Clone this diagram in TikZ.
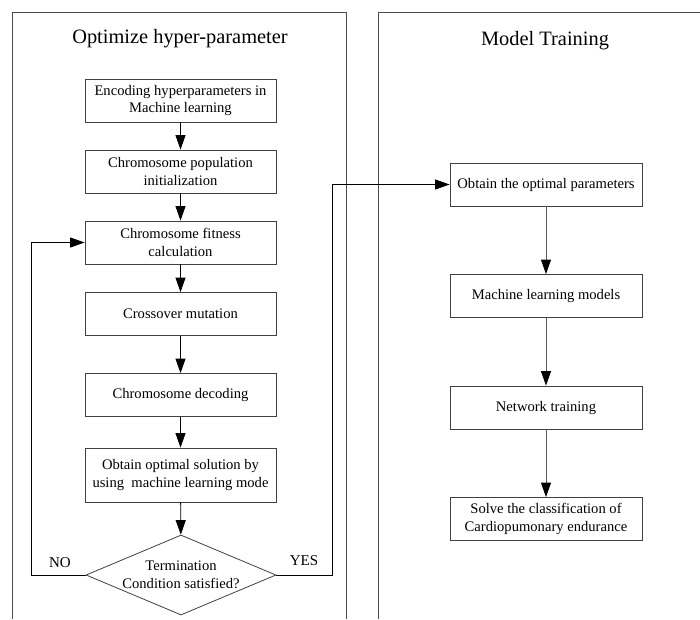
\documentclass[tikz,border=0pt]{standalone}
\usepackage{fontspec}
\setmainfont{Liberation Serif}
\usetikzlibrary{arrows.meta,shapes.geometric}

\begin{document}
\begin{tikzpicture}[x=1pt,y=-1pt,
  panel/.style={draw=black!70,line width=0.8pt},
  ptitle/.style={font=\fontsize{20.4}{24}\selectfont,inner sep=0pt},
  stepbox/.style={draw=black!75,line width=0.8pt,minimum width=191pt,minimum height=43pt,
    align=center,inner sep=2pt,font=\fontsize{14.6}{17.5}\selectfont},
  decision/.style={draw=black!75,line width=0.8pt,diamond,aspect=2.375,inner sep=0pt,
    minimum width=190pt,minimum height=80pt},
  flow/.style={line width=0.8pt,-{Triangle[length=14.5pt,width=10pt,black]}},
  flowgray/.style={flow,draw=black!65},
  lbl/.style={font=\fontsize{15}{18}\selectfont,inner sep=0pt}
]
\useasboundingbox (0,0) rectangle (700,619);

% the two panels (open at the bottom / right edge)
\draw[panel] (12,619) -- (12,12) -- (346,12) -- (346,619);
\draw[panel] (378,619) -- (378,12) -- (700,12);

\node[ptitle] (tleft) at (180,39) {Optimize hyper-parameter};
\node[ptitle] (tright) at (545,41) {Model Training};

% genetic search for the hyper-parameters
\node[stepbox] (b1) at (180.5,100.5) {Encoding hyperparameters in\\Machine learning};
\node[stepbox] (b2) at (180.5,171.5) {Chromosome population\\initialization};
\node[stepbox] (b3) at (180.5,242.5) {Chromosome fitness\\calculation};
\node[stepbox] (b4) at (180.5,314) {Crossover mutation};
\node[stepbox] (b5) at (180.5,395) {Chromosome decoding};
\node[stepbox,minimum height=54pt] (b6) at (180.5,475) {Obtain optimal solution by\\using\ \ machine learning mode};
\node[decision,label={[align=center,font=\fontsize{14.6}{18}\selectfont]center:Termination\\Condition satisfied?}] (dec) at (181,575) {};

\draw[flow] (b1) -- (b2);
\draw[flow] (b2) -- (b3);
\draw[flow] (b3) -- (b4);
\draw[flow] (b4) -- (b5);
\draw[flow] (b5) -- (b6);
\draw[flow] (b6) -- (dec);

\coordinate (noturn) at (31,575);
\coordinate (yesturn) at (332,575);
\draw[flow] (dec.west) -- (noturn) |- (b3.west);
\node[lbl] (nolbl) at (60,563) {NO};
\node[lbl] (yeslbl) at (304,561) {YES};

% training with the selected parameters
\node[stepbox,minimum width=192pt] (r1) at (546,184.5) {Obtain the optimal parameters};
\node[stepbox,minimum width=192pt] (r2) at (546,296) {Machine learning models};
\node[stepbox,minimum width=192pt] (r3) at (546,407.5) {Network training};
\node[stepbox,minimum width=192pt] (r4) at (546,519) {Solve the classification of\\Cardiopumonary endurance};

\draw[flow] (dec.east) -- (yesturn) |- (r1.west);
\draw[flowgray] (r1) -- (r2);
\draw[flowgray] (r2) -- (r3);
\draw[flowgray] (r3) -- (r4);
\end{tikzpicture}
\end{document}
